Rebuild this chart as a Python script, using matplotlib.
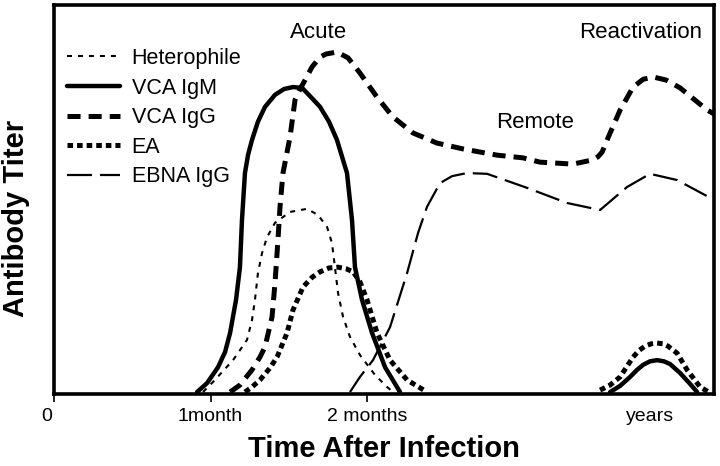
import numpy as np
import matplotlib
matplotlib.use("Agg")
import matplotlib.pyplot as plt
import matplotlib.transforms as mtransforms

plt.rcParams["font.family"] = ["Liberation Sans", "DejaVu Sans"]
plt.rcParams["lines.scale_dashes"] = False

# time axis in "months" (compressed: the "years" mark sits at ~3.8)
tick_pos = [0, 1, 2, 3.81]
tick_lbl = ["0", "1month", "2 months", "years"]

# Heterophile (thin dotted)
het_t = [0.952, 1.016, 1.080, 1.144, 1.233, 1.265, 1.284, 1.303, 1.329, 1.361,
         1.412, 1.508, 1.617, 1.687, 1.745, 1.776, 1.795, 1.815, 1.847, 1.891,
         1.955, 2.051, 2.128, 2.166]
het_y = [0.5, 3.1, 5.9, 8.7, 13.9, 19.0, 24.2, 31.1, 36.2, 40.3,
         44.0, 46.8, 47.6, 46.0, 42.9, 38.8, 32.6, 25.9, 19.8, 14.7,
         10.0, 4.9, 1.8, 0.5]

# VCA IgM (solid) - acute peak and reactivation bump
igm_t = [0.914, 0.978, 1.048, 1.093, 1.125, 1.163, 1.188, 1.201, 1.220, 1.240,
         1.265, 1.303, 1.348, 1.412, 1.470, 1.527, 1.585, 1.642, 1.700, 1.757,
         1.808, 1.872, 1.904, 1.923, 1.968, 2.032, 2.115, 2.211]
igm_y = [0.5, 2.8, 6.9, 10.8, 15.7, 24.2, 32.6, 44.7, 56.8, 61.5,
         65.3, 70.0, 73.8, 76.9, 78.4, 78.9, 78.7, 76.3, 73.8, 70.0,
         65.3, 56.8, 44.7, 32.6, 24.2, 15.7, 6.9, 0.5]
igm_re_t = [3.553, 3.617, 3.681, 3.725, 3.764, 3.808, 3.853, 3.897, 3.936, 4.000,
            4.064, 4.109]
igm_re_y = [0.5, 2.1, 4.4, 6.2, 7.5, 8.4, 8.7, 8.4, 7.7, 5.4,
            2.6, 0.5]

# VCA IgG (thick dashed)
igg_t = [1.125, 1.188, 1.265, 1.316, 1.348, 1.393, 1.412, 1.431, 1.444, 1.463,
         1.508, 1.540, 1.572, 1.604, 1.649, 1.700, 1.738, 1.808, 1.879, 1.955,
         2.064, 2.166, 2.294, 2.447, 2.613, 2.831, 2.997, 3.105, 3.316, 3.444,
         3.476, 3.502, 3.553, 3.617, 3.700, 3.764, 3.828, 3.911, 4.000, 4.173,
         4.217]
igg_y = [0.5, 2.3, 6.2, 9.5, 12.1, 19.8, 28.5, 39.6, 48.1, 56.8,
         66.1, 75.6, 78.4, 80.7, 84.1, 86.6, 87.4, 87.9, 86.4, 82.5,
         76.3, 71.2, 67.1, 64.5, 63.0, 61.4, 60.7, 59.6, 59.1, 60.2,
         61.0, 62.2, 67.1, 73.0, 78.9, 80.9, 81.5, 80.7, 78.7, 73.0,
         72.0]

# EA (thick dotted) - acute and reactivation
ea_t = [1.220, 1.265, 1.316, 1.380, 1.425, 1.489, 1.527, 1.591, 1.649, 1.700,
        1.757, 1.815, 1.866, 1.911, 1.955, 2.000, 2.064, 2.147, 2.256, 2.371]
ea_y = [0.5, 1.8, 3.6, 6.7, 9.5, 15.7, 21.6, 27.5, 30.0, 31.4,
        32.4, 32.6, 32.2, 31.4, 28.8, 24.2, 15.7, 8.7, 3.6, 0.8]
ea_re_t = [3.489, 3.553, 3.617, 3.700, 3.738, 3.776, 3.815, 3.853, 3.891, 3.923,
           3.981, 4.045, 4.128, 4.192]
ea_re_y = [1.0, 2.3, 4.4, 9.5, 11.2, 12.3, 12.9, 13.1, 12.9, 12.3,
           10.5, 6.2, 1.8, 0.3]

# EBNA IgG (long dashes)
ebna_t = [1.891, 1.955, 2.038, 2.147, 2.256, 2.326, 2.383, 2.466, 2.543, 2.639,
          2.767, 3.022, 3.278, 3.489, 3.661, 3.808, 3.981, 4.217]
ebna_y = [0.5, 4.4, 8.7, 17.2, 31.1, 41.4, 48.1, 54.2, 56.0, 56.8,
          56.6, 53.0, 49.1, 47.3, 53.2, 56.6, 55.0, 49.9]

fig = plt.figure(figsize=(7.2, 4.66), dpi=100)
ax = fig.add_axes([0.075, 0.1545, 0.9167, 0.8348])

l_het, = ax.plot(het_t, het_y, color="black", lw=1.5, dashes=(3.6, 4.3),
                 label="Heterophile")
l_igm, = ax.plot(igm_t + [np.nan] + igm_re_t, igm_y + [np.nan] + igm_re_y,
                 color="black", lw=3.2, solid_capstyle="round",
                 solid_joinstyle="round", label="VCA IgM")
l_igg, = ax.plot(igg_t, igg_y, color="black", lw=3.6, dashes=(9.4, 5.8),
                 label="VCA IgG")
l_ea, = ax.plot(ea_t + [np.nan] + ea_re_t, ea_y + [np.nan] + ea_re_y,
                color="black", lw=3.6, dashes=(4.0, 2.9), label="EA")
l_ebna, = ax.plot(ebna_t, ebna_y, color="black", lw=1.6, dashes=(18, 5.8),
                  label="EBNA IgG")

ax.set_xlim(0, 4.217)
ax.set_ylim(0, 100)
ax.set_yticks([])
ax.set_xticks(tick_pos)
ax.set_xticklabels(tick_lbl)
ax.tick_params(axis="x", direction="out", length=6, width=1.2, pad=4,
               labelsize=14)
ax.get_xaxis().get_major_ticks()[3].tick1line.set_visible(False)
zero_lbl = ax.get_xticklabels()[0]
zero_lbl.set_transform(zero_lbl.get_transform() +
                       mtransforms.ScaledTranslation(-7 / 100, 0, fig.dpi_scale_trans))
for s in ax.spines.values():
    s.set_linewidth(2.6)

ax.set_xlabel("Time After Infection", fontsize=21, fontweight="bold", labelpad=7)
ax.set_ylabel("Antibody Titer", fontsize=21, fontweight="bold")
ax.yaxis.set_label_coords(-0.036, 0.452)

ax.text(1.687, 92.8, "Acute", ha="center", va="center", fontsize=16)
ax.text(3.073, 69.9, "Remote", ha="center", va="center", fontsize=16)
ax.text(3.751, 92.8, "Reactivation", ha="center", va="center", fontsize=16)

ax.legend(handles=[l_het, l_igm, l_igg, l_ea, l_ebna], loc="upper left",
          bbox_to_anchor=(67 / 720, 1 - 48 / 466), bbox_transform=fig.transFigure,
          frameon=False, fontsize=15.5, handlelength=2.45, handletextpad=0.55,
          labelspacing=0.40, borderpad=0, borderaxespad=0)

fig.savefig("out.png", dpi=100)
